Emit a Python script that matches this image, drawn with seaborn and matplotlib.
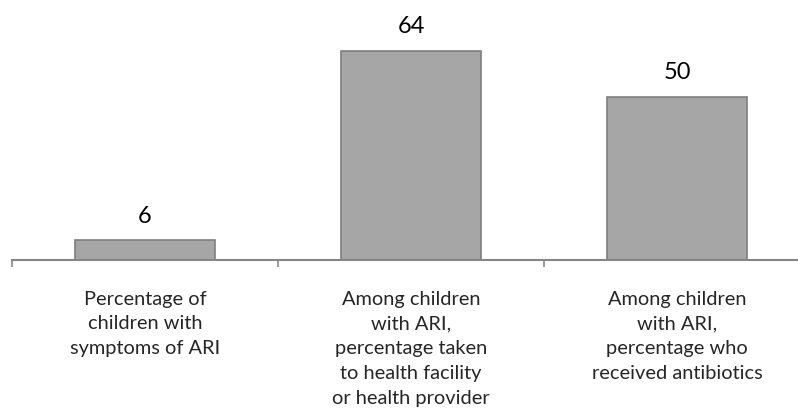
import matplotlib
matplotlib.use('Agg')
import matplotlib.pyplot as plt
import seaborn as sns

# --- data ---
categories = [
    'Percentage of\nchildren with\nsymptoms of ARI',
    'Among children\nwith ARI,\npercentage taken\nto health facility\nor health provider',
    'Among children\nwith ARI,\npercentage who\nreceived antibiotics',
]
values = [6, 64, 50]

sns.set_style('white')
plt.rcParams['font.family'] = ['Lato', 'DejaVu Sans']

fig = plt.figure(figsize=(7.98, 4.09), dpi=100)
# axes runs a bit past the right edge, like the original crop
ax = fig.add_axes([12 / 798, 149 / 409, 798 / 798, 260 / 409])

sns.barplot(x=list(range(len(values))), y=values, color='#a6a6a6',
            edgecolor='#7f7f7f', linewidth=1.2, width=0.527, saturation=1,
            ax=ax)
ax.set_xlim(-0.5, 2.5)
ax.set_ylim(0, 79.6)

for c in ax.containers:
    ax.bar_label(c, padding=10, fontsize=17, color='#000000')

# tick marks on category boundaries, labels in the middle
ax.set_xticks([-0.5, 0.5, 1.5, 2.5])
ax.set_xticklabels([])
ax.set_xticks(range(len(categories)), minor=True)
ax.set_xticklabels(categories, minor=True, fontsize=14.4, linespacing=1.56,
                   va='top', ha='center', multialignment='center')
ax.tick_params(axis='x', which='major', direction='out', length=5,
               width=1.2, color='#868686', bottom=True)
ax.tick_params(axis='x', which='minor', length=0, pad=22)
ax.set_yticks([])
ax.set_xlabel('')
ax.set_ylabel('')

sns.despine(ax=ax, left=True)
ax.spines['bottom'].set_color('#868686')
ax.spines['bottom'].set_linewidth(1.5)

fig.savefig('out.png', dpi=100)
